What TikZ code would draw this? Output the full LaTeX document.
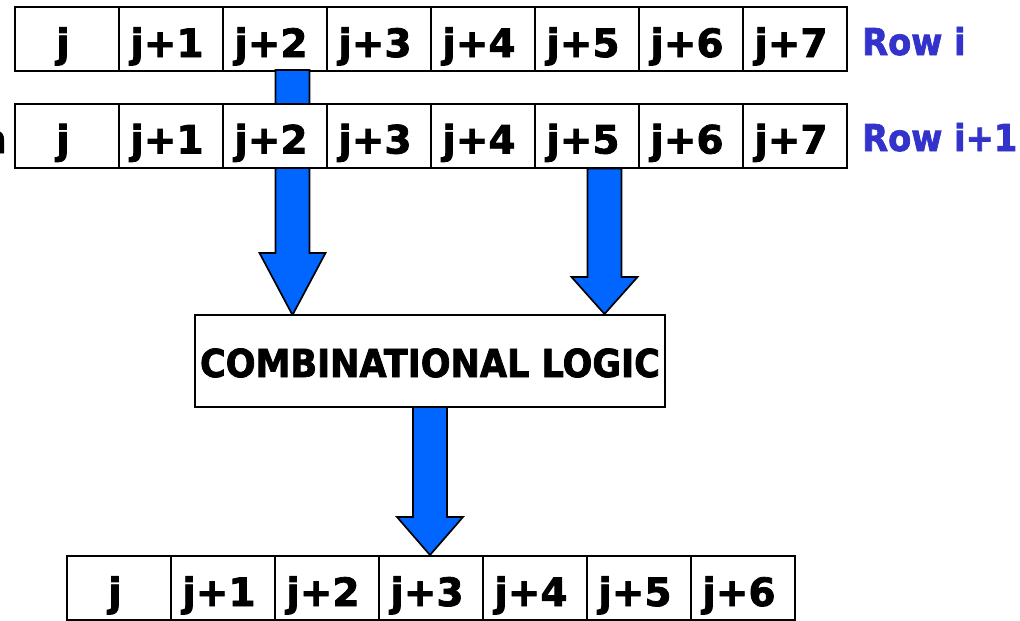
\documentclass[tikz,border=0pt]{standalone}
\usepackage{fontspec}
\setmainfont{DejaVu Sans}
\newfontfamily\heavysans{DejaVu Sans}[FakeBold=2]
\newfontfamily\narrowsans{DejaVu Sans}[FakeStretch=0.91,FakeBold=2]
\usetikzlibrary{calc}
\definecolor{arrowblue}{RGB}{0,102,255}
\definecolor{labelblue}{RGB}{51,51,204}

% wide block arrow: #1 start coordinate, #2 tip coordinate, #3 head length
\newcommand\blockarrow[3]{%
  \filldraw[blockarrow] ($(#1)+(-17,0)$) -- ($(#2)+(-17,-#3)$) -- ($(#2)+(-33,-#3)$)
    -- (#2) -- ($(#2)+(33,-#3)$) -- ($(#2)+(17,-#3)$) -- ($(#1)+(17,0)$) -- cycle;}

\begin{document}
\begin{tikzpicture}[x=1pt,y=-1pt,
  cell/.style={draw=black, line width=2pt, fill=white,
    minimum width=104pt, minimum height=64pt, inner sep=0pt,
    text height=50pt, text depth=14pt,
    font=\heavysans\bfseries\fontsize{39}{47}\selectfont,
    execute at end node={\hspace*{8pt}}},
  logicbox/.style={draw=black, line width=2pt, fill=white,
    minimum width=470pt, minimum height=92pt, inner sep=0pt,
    text height=40pt, text depth=8pt,
    font=\narrowsans\bfseries\fontsize{38.5}{46}\selectfont},
  rowlabel/.style={inner sep=0pt, text=labelblue,
    font=\narrowsans\bfseries\fontsize{37}{44}\selectfont},
  blockarrow/.style={fill=arrowblue, draw=black, line width=1.7pt, line join=miter}
]
\useasboundingbox (0,0) rectangle (1020,621);

% row i
\foreach \t [count=\k from 0] in {j,j+1,j+2,j+3,j+4,j+5,j+6,j+7}
  \node[cell] (ri-\k) at ({67+104*\k},39) {\t};
\node[rowlabel, anchor=base west] (labi) at (862,55) {Row i};

% arrow from row i down to the logic block (passes behind row i+1)
\coordinate (a1s) at ($(ri-2.south)+(17.5,-2)$);
\coordinate (a1t) at (a1s |- 0,315);
\blockarrow{a1s}{a1t}{62}

% row i+1
\foreach \t [count=\k from 0] in {j,j+1,j+2,j+3,j+4,j+5,j+6,j+7}
  \node[cell] (rn-\k) at ({67+104*\k},135.5) {\t};
\node[rowlabel, anchor=base west] (labn) at (862,151) {Row i+1};
\node[font=\heavysans\bfseries\fontsize{39}{47}\selectfont, inner sep=0pt, anchor=base east] (cut) at (7,153) {n};

% combinational logic block
\node[logicbox] (logic) at (430,361) {COMBINATIONAL LOGIC};

% arrow from row i+1 to the logic block
\coordinate (a2s) at ($(rn-5.south)+(17.5,0)$);
\coordinate (a2t) at (a2s |- logic.north);
\blockarrow{a2s}{a2t}{37}

% output row
\foreach \t [count=\k from 0] in {j,j+1,j+2,j+3,j+4,j+5,j+6}
  \node[cell] (out-\k) at ({119+104*\k},588) {\t};

% arrow from the logic block to the output row
\coordinate (a3s) at ($(logic.south)+(0,-1)$);
\coordinate (a3t) at (a3s |- out-3.north);
\blockarrow{a3s}{a3t}{38}
\end{tikzpicture}
\end{document}
